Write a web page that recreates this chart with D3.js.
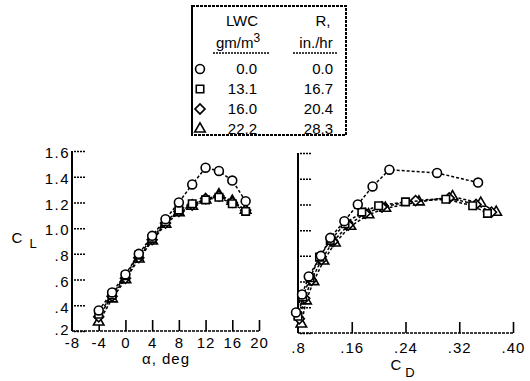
<!DOCTYPE html>
<html>
<head>
<meta charset="utf-8">
<script src="https://cdn.jsdelivr.net/npm/d3@7"></script>
<style>
  body { margin: 0; background: #fff; }
  svg text { font-family: "Liberation Sans", Arial, sans-serif; fill: #000; }
</style>
</head>
<body>
<div class="chart"></div>
<script>
// angle of attack for every run
const alphaDeg = [-4, -2, 0, 2, 4, 6, 8, 10, 12, 14, 16, 18];

// lift / drag per rain condition
const clDry = [0.36, 0.50, 0.64, 0.80, 0.94, 1.07, 1.20, 1.34, 1.47, 1.445, 1.37, 1.21];
const cdDry = [0.077, 0.086, 0.096, 0.114, 0.128, 0.149, 0.169, 0.191, 0.216, 0.287, 0.348, 0.42];
const clRain1 = [0.33, 0.48, 0.63, 0.79, 0.92, 1.05, 1.14, 1.19, 1.22, 1.24, 1.19, 1.13];
const cdRain1 = [0.080, 0.087, 0.098, 0.112, 0.128, 0.150, 0.175, 0.200, 0.240, 0.300, 0.340, 0.362];
const clRain2 = [0.31, 0.47, 0.61, 0.77, 0.91, 1.04, 1.13, 1.18, 1.23, 1.25, 1.20, 1.14];
const cdRain2 = [0.082, 0.090, 0.100, 0.115, 0.132, 0.155, 0.180, 0.205, 0.255, 0.305, 0.345, 0.368];
const clRain3 = [0.27, 0.45, 0.60, 0.76, 0.90, 1.03, 1.12, 1.17, 1.22, 1.26, 1.21, 1.14];
const cdRain3 = [0.085, 0.092, 0.103, 0.118, 0.135, 0.158, 0.185, 0.210, 0.260, 0.310, 0.352, 0.375];

// legend table
const lwcLabels = ['0.0', '13.1', '16.0', '22.2'];
const rateLabels = ['0.0', '16.7', '20.4', '28.3'];
const markerKinds = ['circle', 'square', 'diamond', 'triangle'];

// ticks
const clTicks = [0.2, 0.4, 0.6, 0.8, 1.0, 1.2, 1.4, 1.6];
const clTickLabels = ['.2', '.4', '.6', '.8', '1.0', '1.2', '1.4', '1.6'];
const alphaTicks = [-8, -4, 0, 4, 8, 12, 16, 20];
const cdTicks = [0.08, 0.16, 0.24, 0.32, 0.40];
const cdTickLabels = ['.8', '.16', '.24', '.32', '.40'];

const series = [
  {cl: clDry, cd: cdDry},
  {cl: clRain1, cd: cdRain1},
  {cl: clRain2, cd: cdRain2},
  {cl: clRain3, cd: cdRain3}
];

const W = 530, H = 381;
const svg = d3.select('.chart').append('svg').attr('width', W).attr('height', H);

const xAlpha = d3.scaleLinear().domain([-8, 20]).range([72, 259]);
const yLeft = d3.scaleLinear().domain([0.2, 1.6]).range([331, 151]);
const xCd = d3.scaleLinear().domain([0.08, 0.40]).range([298, 513]);
const yRight = d3.scaleLinear().domain([0.2, 1.6]).range([333, 153]);

function symbolPath(kind) {
  if (kind === 'circle') return d3.symbol().type(d3.symbolCircle).size(62)();
  if (kind === 'square') return d3.symbol().type(d3.symbolSquare).size(56)();
  if (kind === 'diamond') return d3.symbol().type(d3.symbolSquare).size(50)();
  return d3.symbol().type(d3.symbolTriangle).size(48)();
}

function drawMarker(g, kind, x, y) {
  g.append('path')
    .attr('d', symbolPath(kind))
    .attr('transform', 'translate(' + x + ',' + y + ')' + (kind === 'diamond' ? ' rotate(45)' : ''))
    .attr('fill', '#fff')
    .attr('stroke', '#000')
    .attr('stroke-width', 1.6);
}

function drawPanel(xs, ys, xKey, xLabels, xTicks, yLabels, maxX, labelPad) {
  const g = svg.append('g');

  // y axis, ticks pointing inward
  const yAxis = d3.axisLeft(ys).tickValues(clTicks).tickSize(-13).tickPadding(2)
    .tickFormat((d, i) => yLabels ? yLabels[i] : '');
  const ya = g.append('g').attr('transform', 'translate(' + xs.range()[0] + ',0)').call(yAxis);
  ya.select('.domain').remove();
  ya.selectAll('.tick line').attr('x1', 2).attr('x2', 14)
    .attr('stroke-width', 1.5).attr('stroke-dasharray', '2,1');
  ya.selectAll('.tick text').style('font-size', '15px').style('letter-spacing', '1.5px')
    .attr('dy', d => d === 0.2 ? '0.25em' : '0.45em');

  // x axis, ticks pointing up
  const xAxis = d3.axisBottom(xs).tickValues(xTicks).tickSize(-11).tickPadding(labelPad)
    .tickFormat((d, i) => xLabels[i]);
  const xa = g.append('g').attr('transform', 'translate(0,' + ys.range()[0] + ')').call(xAxis);
  xa.select('.domain').remove();
  xa.selectAll('.tick line').attr('stroke-width', 1.6);
  xa.selectAll('.tick').filter((d, i) => i === 0).select('line').remove();
  xa.selectAll('.tick text').style('font-size', '15px').style('letter-spacing', '1px').attr('dy', '0.71em');

  g.append('line')
    .attr('x1', xs.range()[0]).attr('x2', xs.range()[0])
    .attr('y1', ys.range()[1]).attr('y2', ys.range()[0])
    .attr('stroke', '#000').attr('stroke-width', 2);
  g.append('line')
    .attr('x1', xs.range()[0]).attr('x2', xs.range()[1])
    .attr('y1', ys.range()[0]).attr('y2', ys.range()[0])
    .attr('stroke', '#000').attr('stroke-width', 1.6).attr('stroke-dasharray', '3,1');

  const line = d3.line().x(d => xs(d.x)).y(d => ys(d.y));

  // draw heaviest rain first so the dry circles sit on top
  [3, 2, 1, 0].forEach(s => {
    const pts = alphaDeg.map((a, i) => ({x: xKey === 'alpha' ? a : series[s].cd[i], y: series[s].cl[i]}))
      .filter(p => p.x <= maxX);
    g.append('path')
      .attr('d', line(pts))
      .attr('fill', 'none')
      .attr('stroke', '#000')
      .attr('stroke-width', 1.5)
      .attr('stroke-dasharray', '3,2');
    pts.forEach(p => drawMarker(g, markerKinds[s], xs(p.x), ys(p.y)));
  });
  return g;
}

drawPanel(xAlpha, yLeft, 'alpha', alphaTicks.map(String), alphaTicks, clTickLabels, 20, 6);
drawPanel(xCd, yRight, 'cd', cdTickLabels, cdTicks, null, 0.40, 9);

// axis titles
svg.append('text').attr('x', 17).attr('y', 243).attr('text-anchor', 'middle').style('font-size', '15px').text('C');
svg.append('text').attr('x', 33).attr('y', 248).attr('text-anchor', 'middle').style('font-size', '13px').text('L');
svg.append('text').attr('x', 166).attr('y', 364).attr('text-anchor', 'middle')
  .style('font-size', '15px').style('letter-spacing', '1px').text('α, deg');
svg.append('text').attr('x', 396).attr('y', 370).attr('text-anchor', 'middle').style('font-size', '15px').text('C');
svg.append('text').attr('x', 410).attr('y', 377).attr('text-anchor', 'middle').style('font-size', '13px').text('D');

// legend box
const lg = svg.append('g');
lg.append('rect').attr('x', 192).attr('y', 6).attr('width', 154).attr('height', 129)
  .attr('fill', '#fff').attr('stroke', '#000').attr('stroke-width', 2).attr('stroke-dasharray', '3,1');
lg.append('line').attr('x1', 192).attr('x2', 192).attr('y1', 6).attr('y2', 135)
  .attr('stroke', '#000').attr('stroke-width', 2);
lg.append('text').attr('x', 242).attr('y', 26).attr('text-anchor', 'middle').style('font-size', '15px').text('LWC');
const gm = lg.append('text').attr('x', 238).attr('y', 48).attr('text-anchor', 'middle').style('font-size', '15px');
gm.append('tspan').text('gm/m');
gm.append('tspan').attr('dy', -6).style('font-size', '12px').text('3');
lg.append('text').attr('x', 323).attr('y', 26).attr('text-anchor', 'middle').style('font-size', '15px').text('R,');
lg.append('text').attr('x', 316).attr('y', 48).attr('text-anchor', 'middle').style('font-size', '15px').text('in./hr');
lg.append('line').attr('x1', 213).attr('x2', 270).attr('y1', 53).attr('y2', 53)
  .attr('stroke', '#000').attr('stroke-width', 1.5).attr('stroke-dasharray', '2,1');
lg.append('line').attr('x1', 293).attr('x2', 338).attr('y1', 53).attr('y2', 53)
  .attr('stroke', '#000').attr('stroke-width', 1.5).attr('stroke-dasharray', '2,1');

lwcLabels.forEach((lab, i) => {
  const cy = 69 + i * 20;
  drawMarker(lg, markerKinds[i], 200, cy);
  lg.append('text').attr('x', 257).attr('y', cy + 5).attr('text-anchor', 'end').style('font-size', '15px').text(lab);
  lg.append('text').attr('x', 333).attr('y', cy + 5).attr('text-anchor', 'end').style('font-size', '15px').text(rateLabels[i]);
});
</script>
</body>
</html>
